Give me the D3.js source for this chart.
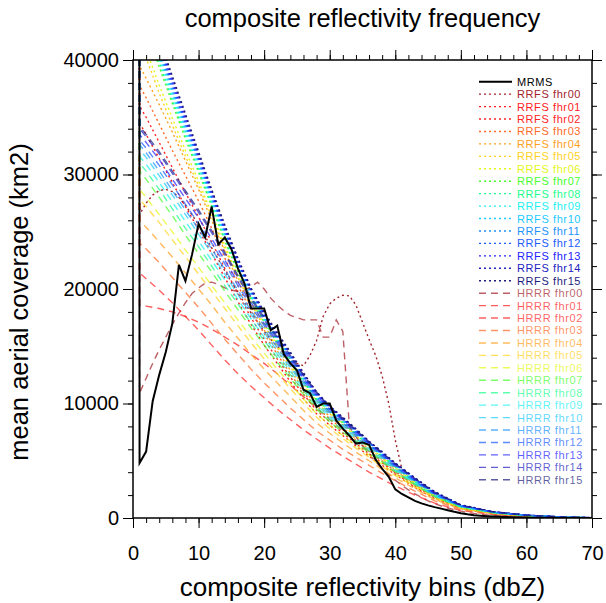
<!DOCTYPE html>
<html>
<head>
<meta charset="utf-8">
<script src="https://cdn.jsdelivr.net/npm/d3@7/dist/d3.min.js"></script>
<style>
  body { margin: 0; background: #fff; }
  text { font-family: "Liberation Sans", Arial, Helvetica, sans-serif; }
</style>
</head>
<body>
<svg id="chart" width="606" height="603"></svg>
<script>
// ---- data ----
// MRMS and the two fhr00 runs are read at every 1 dBZ bin
const bins = [0,1,2,3,4,5,6,7,8,9,10,11,12,13,14,15,16,17,18,19,20,21,22,23,24,25,26,27,28,29,30,
  31,32,33,34,35,36,37,38,39,40,41,42,43,44,45,46,47,48,49,50,51,52,53,54,55,56,57,58,59,60,
  61,62,63,64,65,66,67,68,69,70];
// the other forecast hours are smooth, read at these bins
const modelBins = [0,1,2,4,6,8,10,12,14,16,18,20,22,24,26,28,30,32,34,36,38,40,43,46,50,55,60,65,70];

const mrms = [1500000,4800,5800,10200,12500,14500,17000,22100,20700,23000,25700,24500,27200,23900,24500,23500,
  21800,20500,18300,18300,18300,16400,16800,14300,13500,12900,11200,10900,9700,10000,10000,8500,7800,7200,
  6500,6600,6400,5100,4300,3600,2500,2100,1800,1500,1280,1100,950,820,680,540,420,320,250,200,160,130,100,
  80,60,45,35,28,22,17,13,10,7,5,3,2,1];

const rrfs00 = [1500000,26500,27500,28200,28600,28700,28500,28000,27300,26500,25600,24600,23600,22600,21600,
  20600,19700,18800,17900,17100,16300,15600,15000,14400,13900,13500,13300,14200,15500,17600,18700,19200,
  19450,19400,18600,17100,15600,14200,12400,10000,6800,4300,3700,3200,2700,2300,1950,1650,1400,1150,950,
  800,670,560,470,390,320,260,210,170,140,110,90,70,55,40,30,20,12,6,2];

const hrrr00 = [1500000,10900,12200,13500,14700,15800,16900,17900,18800,19600,20100,20500,20600,20400,20100,
  19900,19800,19900,20200,20600,20000,19200,18600,18100,17700,17500,17300,17300,17300,15800,15800,17300,
  16300,8000,7100,6300,5600,4900,4300,3800,3300,2850,2450,2100,1800,1500,1250,1050,870,720,600,490,400,
  330,270,220,180,150,120,100,80,65,50,40,30,25,18,12,8,5,2];

// RRFS fhr01..fhr15 on modelBins
const rrfs = [
  [1500000,34500,33500,31400,29300,27200,25200,23100,21000,18900,16900,15100,13500,11900,10400,9100,8100,7200,6300,5400,4600,3800,2650,1700,820,380,170,60,10],
  [1500000,36000,35000,32800,30600,28400,26300,24100,21800,19600,17500,15600,13900,12300,10800,9400,8400,7400,6500,5600,4800,3900,2750,1750,850,400,180,65,10],
  [1500000,37800,36700,34400,32100,29900,27700,25300,22700,20300,18100,16100,14300,12600,11000,9600,8700,7700,6800,5900,5000,4100,2900,1850,900,420,190,70,12],
  [1500000,39500,38400,36100,33700,31200,28700,26000,23300,20700,18400,16400,14600,12900,11300,9800,8900,7900,6900,6000,5100,4200,2950,1900,930,440,200,75,15],
  [1500000,41800,40200,37100,34300,31600,29000,26300,23500,21000,18700,16700,14900,13200,11500,10000,9100,8100,7100,6100,5200,4300,3050,1950,960,450,205,80,15],
  [1500000,42500,40900,37800,34900,32100,29400,26600,23800,21200,18900,16900,15100,13400,11700,10200,9200,8200,7200,6200,5300,4400,3100,2000,980,460,210,80,15],
  [1500000,44500,42800,39400,36200,33100,30200,27200,24200,21500,19100,17100,15300,13600,11900,10300,9300,8300,7300,6300,5400,4450,3150,2050,1000,470,215,85,18],
  [1500000,45000,43200,39800,36500,33400,30400,27400,24400,21700,19300,17300,15500,13800,12000,10400,9400,8400,7400,6400,5450,4500,3200,2080,1020,480,220,85,18],
  [1500000,45500,43700,40200,36900,33700,30700,27600,24600,21900,19400,17400,15600,13900,12100,10500,9450,8450,7450,6450,5500,4550,3250,2100,1040,490,225,90,20],
  [1500000,45700,43900,40500,37200,34000,31000,27800,24800,22000,19500,17500,15700,14000,12200,10600,9500,8500,7500,6500,5550,4600,3300,2150,1060,500,230,90,20],
  [1500000,46000,44200,40800,37500,34300,31200,28000,25000,22200,19700,17600,15800,14100,12300,10700,9600,8600,7600,6550,5600,4650,3350,2180,1080,510,235,95,20],
  [1500000,46200,44500,41100,37800,34500,31400,28200,25100,22300,19800,17700,15900,14200,12400,10800,9650,8650,7650,6600,5650,4700,3400,2200,1100,520,240,95,22],
  [1500000,46500,44800,41400,38100,34800,31600,28400,25300,22400,19900,17800,16000,14300,12500,10900,9700,8700,7700,6650,5700,4750,3450,2250,1120,530,245,100,25],
  [1500000,46800,45100,41700,38400,35100,31800,28600,25500,22600,20000,17900,16100,14400,12600,11000,9750,8750,7750,6700,5750,4800,3500,2300,1150,540,250,100,25],
  [1500000,47000,45300,41900,38600,35300,32000,28700,25600,22700,20100,18000,16200,14500,12700,11000,9800,8800,7800,6700,5800,4800,3500,2300,1150,550,260,110,30]
];

// HRRR fhr01..fhr15 on modelBins
const hrrr = [
  [1500000,18600,18500,18300,18000,17600,17100,16500,15800,15100,14300,13500,12600,11600,10600,9600,8600,7600,6700,5800,4900,4000,2900,1900,950,420,170,60,10],
  [1500000,21400,20900,19900,18800,17600,16400,15100,13800,12600,11500,10500,9500,8600,7700,6900,6100,5400,4700,4000,3400,2800,2000,1300,650,300,130,50,8],
  [1500000,24000,23500,22300,21000,19700,18400,17000,15600,14300,13000,11800,10700,9600,8600,7600,6800,6000,5300,4600,3900,3250,2350,1500,740,350,155,60,10],
  [1500000,26000,25400,24100,22800,21400,20000,18600,17100,15700,14300,13000,11800,10600,9400,8300,7400,6550,5750,5000,4250,3500,2550,1600,790,380,170,65,10],
  [1500000,27800,27200,25800,24300,22800,21300,19800,18300,16800,15300,13900,12600,11300,10000,8800,7800,6950,6100,5300,4500,3700,2700,1700,840,400,180,70,12],
  [1500000,28700,28000,26500,25000,23400,21900,20300,18800,17300,15800,14400,13000,11700,10400,9100,8100,7200,6350,5500,4700,3850,2800,1800,880,420,190,75,12],
  [1500000,30300,29600,28000,26400,24700,23100,21500,19800,18200,16600,15100,13600,12200,10800,9500,8400,7500,6600,5700,4900,4000,2900,1850,920,440,200,80,15],
  [1500000,31000,30300,28700,27000,25300,23700,22000,20300,18700,17000,15500,14000,12500,11100,9700,8600,7700,6750,5850,5000,4100,2950,1900,950,460,210,80,15],
  [1500000,31600,30900,29300,27600,25900,24200,22500,20800,19100,17400,15800,14300,12800,11300,9900,8800,7850,6900,6000,5150,4200,3050,1950,970,470,215,85,18],
  [1500000,32200,31500,29900,28200,26500,24800,23100,21300,19500,17800,16200,14600,13100,11600,10100,9000,8000,7050,6100,5250,4300,3100,2000,1000,480,220,85,18],
  [1500000,32600,31900,30300,28600,26900,25200,23500,21700,19900,18100,16500,14900,13300,11800,10300,9150,8150,7200,6250,5350,4400,3200,2050,1020,490,225,90,20],
  [1500000,33000,32300,30800,29100,27400,25700,24000,22200,20300,18500,16800,15200,13600,12000,10500,9300,8300,7350,6400,5450,4500,3250,2100,1050,500,230,90,20],
  [1500000,33500,32800,31300,29600,27900,26200,24400,22500,20600,18800,17000,15400,13800,12200,10700,9500,8500,7500,6500,5550,4600,3350,2150,1080,520,240,95,22],
  [1500000,34000,33300,31800,30100,28400,26700,24900,23000,21000,19100,17300,15600,14000,12400,10900,9600,8600,7600,6600,5650,4700,3400,2200,1100,530,245,100,25],
  [1500000,34200,33500,32000,30300,28600,26900,25100,23200,21200,19300,17500,15800,14200,12500,11000,9700,8700,7700,6650,5700,4750,3450,2250,1120,540,250,100,25]
];

const hours = ['fhr00','fhr01','fhr02','fhr03','fhr04','fhr05','fhr06','fhr07',
  'fhr08','fhr09','fhr10','fhr11','fhr12','fhr13','fhr14','fhr15'];
const hourColors = ['#a3232b','#ff1c1c','#ff2626','#ff6a28','#ffa01e','#ffd21e','#e4f81a','#48ff2c',
  '#1cff8e','#1cf0f0','#1ccaff','#1c92ff','#1c5cff','#2424ff','#2222c0','#1e1e80'];

const xTicks = [0,10,20,30,40,50,60,70];
const yTicks = [0,10000,20000,30000,40000];

// ---- layout ----
const svg = d3.select('#chart');
const plotLeft = 133, plotRight = 592, plotTop = 60, plotBottom = 518;

const x = d3.scaleLinear().domain([0, 70]).range([plotLeft, plotRight]);
const y = d3.scaleLinear().domain([0, 40000]).range([plotBottom, plotTop]);

// series list: MRMS, RRFS fhr00-15, HRRR fhr00-15
const series = [{ name: 'MRMS', xs: bins, ys: mrms, color: '#000', dash: null, width: 2, opacity: 1 }];
hours.forEach((h, i) => {
  series.push({ name: 'RRFS ' + h, xs: i === 0 ? bins : modelBins, ys: i === 0 ? rrfs00 : rrfs[i - 1],
    color: hourColors[i], dash: '2,3', width: 1.4, opacity: 1 });
});
hours.forEach((h, i) => {
  series.push({ name: 'HRRR ' + h, xs: i === 0 ? bins : modelBins, ys: i === 0 ? hrrr00 : hrrr[i - 1],
    color: hourColors[i], dash: '7,5', width: 1.4, opacity: 0.72 });
});

svg.append('defs').append('clipPath').attr('id', 'plot-clip')
  .append('rect')
    .attr('x', plotLeft).attr('y', plotTop)
    .attr('width', plotRight - plotLeft).attr('height', plotBottom - plotTop);

const line = d3.line()
  .x(d => x(d[0]))
  .y(d => y(d[1]));

// draw models first, observations on top
const linesGroup = svg.append('g').attr('clip-path', 'url(#plot-clip)');
const drawOrder = series.slice(1).concat(series.slice(0, 1));
linesGroup.selectAll('path').data(drawOrder)
  .enter().append('path')
    .attr('d', s => line(s.xs.map((v, i) => [v, s.ys[i]])))
    .attr('fill', 'none')
    .attr('stroke', s => s.color)
    .attr('stroke-width', s => s.width)
    .attr('stroke-opacity', s => s.opacity)
    .attr('stroke-dasharray', s => s.dash);

// ---- axes (ticks point outward, NCL style) ----
const axisFont = g => g.selectAll('text')
  .attr('font-family', '"Liberation Sans", Arial, Helvetica, sans-serif')
  .attr('font-size', 20).attr('fill', '#000');

const addAxis = (axis, transform) => {
  const g = svg.append('g').attr('transform', transform).call(axis);
  g.select('.domain').remove();
  g.selectAll('line').attr('stroke', '#000').attr('stroke-width', 1);
  return g;
};

const xMinor = d3.range(0, 71, 2);
const yMinor = d3.range(0, 40001, 2000);

addAxis(d3.axisBottom(x).tickValues(xTicks).tickSize(10).tickPadding(18).tickFormat(d3.format('d')),
  `translate(0,${plotBottom})`).call(axisFont);
addAxis(d3.axisBottom(x).tickValues(xMinor).tickSize(5).tickFormat(''), `translate(0,${plotBottom})`);
addAxis(d3.axisTop(x).tickValues(xTicks).tickSize(10).tickFormat(''), `translate(0,${plotTop})`);
addAxis(d3.axisTop(x).tickValues(xMinor).tickSize(5).tickFormat(''), `translate(0,${plotTop})`);

addAxis(d3.axisLeft(y).tickValues(yTicks).tickSize(10).tickPadding(4).tickFormat(d3.format('d')),
  `translate(${plotLeft},0)`).call(axisFont);
addAxis(d3.axisLeft(y).tickValues(yMinor).tickSize(5).tickFormat(''), `translate(${plotLeft},0)`);
addAxis(d3.axisRight(y).tickValues(yTicks).tickSize(10).tickFormat(''), `translate(${plotRight},0)`);
addAxis(d3.axisRight(y).tickValues(yMinor).tickSize(5).tickFormat(''), `translate(${plotRight},0)`);

// frame
svg.append('rect')
  .attr('x', plotLeft).attr('y', plotTop)
  .attr('width', plotRight - plotLeft).attr('height', plotBottom - plotTop)
  .attr('fill', 'none').attr('stroke', '#000').attr('stroke-width', 1.5);

// ---- titles ----
svg.append('text')
  .attr('x', (plotLeft + plotRight) / 2).attr('y', 27)
  .attr('text-anchor', 'middle').attr('font-size', 25.5)
  .text('composite reflectivity frequency');

svg.append('text')
  .attr('x', (plotLeft + plotRight) / 2).attr('y', 596)
  .attr('text-anchor', 'middle').attr('font-size', 26)
  .text('composite reflectivity bins (dbZ)');

svg.append('text')
  .attr('transform', `translate(28,302) rotate(-90)`)
  .attr('text-anchor', 'middle').attr('font-size', 25.5)
  .text('mean aerial coverage (km2)');

// ---- legend ----
const legendX = 479, legendY = 81.7, legendStep = 12.44;
const legend = svg.append('g');
const items = legend.selectAll('g').data(series)
  .enter().append('g')
    .attr('transform', (d, i) => `translate(${legendX},${legendY + i * legendStep})`);
items.append('line')
  .attr('x1', 0).attr('x2', 33)
  .attr('stroke', d => d.color)
  .attr('stroke-width', d => d.name === 'MRMS' ? 2 : 1.4)
  .attr('stroke-opacity', d => d.opacity)
  .attr('stroke-dasharray', d => d.dash);
items.append('text')
  .attr('x', 38).attr('dy', '0.36em')
  .attr('font-size', 11)
  .attr('letter-spacing', 0.6)
  .attr('fill', d => d.color)
  .attr('fill-opacity', d => d.opacity)
  .text(d => d.name);
</script>
</body>
</html>
